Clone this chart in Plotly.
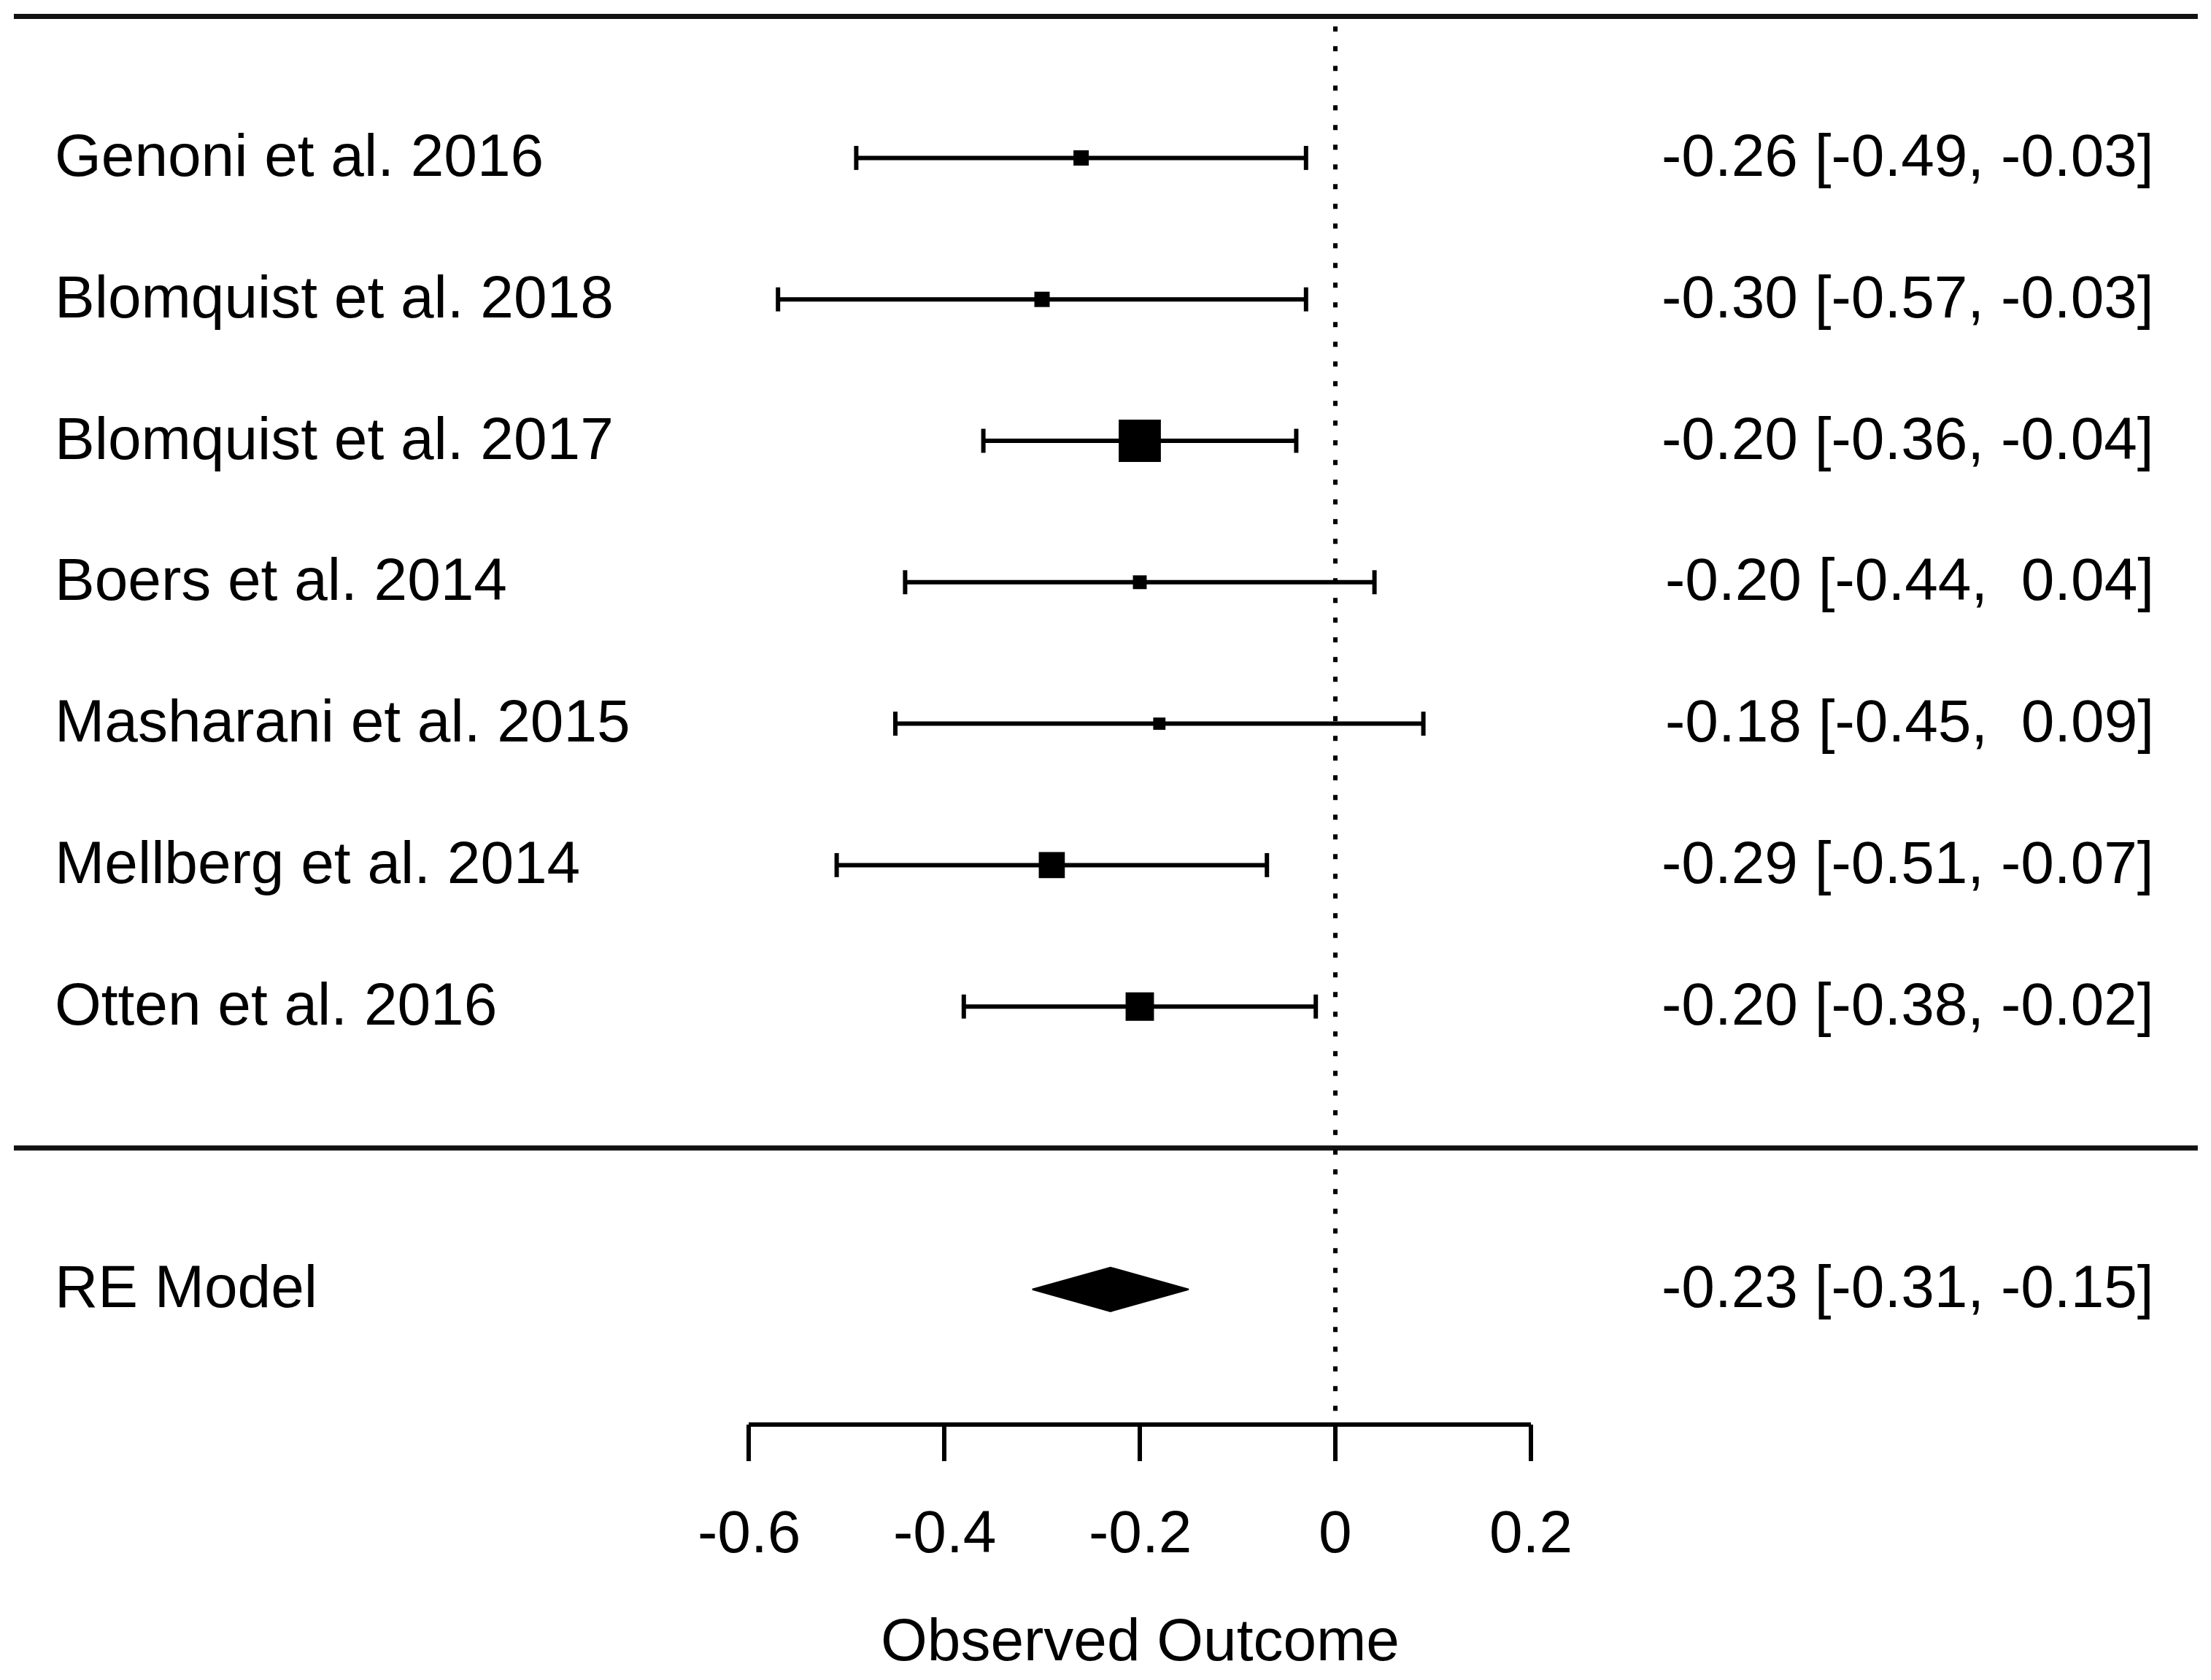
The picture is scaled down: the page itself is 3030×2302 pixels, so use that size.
import plotly.graph_objects as go

# forest plot data
studies = ['Genoni et al. 2016', 'Blomquist et al. 2018', 'Blomquist et al. 2017',
           'Boers et al. 2014', 'Masharani et al. 2015', 'Mellberg et al. 2014',
           'Otten et al. 2016']
estimates = [-0.26, -0.30, -0.20, -0.20, -0.18, -0.29, -0.20]
ci_lower = [-0.49, -0.57, -0.36, -0.44, -0.45, -0.51, -0.38]
ci_upper = [-0.03, -0.03, -0.04, 0.04, 0.09, -0.07, -0.02]
weights = [10.0, 10.0, 27.5, 9.0, 8.0, 17.0, 18.5]

re_label = 'RE Model'
re_estimate = -0.23
re_lower = -0.31
re_upper = -0.15

tick_values = [-0.6, -0.4, -0.2, 0, 0.2]
tick_labels = ['-0.6', '-0.4', '-0.2', '0', '0.2']
x_title = 'Observed Outcome'

# layout constants (pixels of the 3030x2302 page)
PAGE_W, PAGE_H = 3030, 2302
BODY = 8                       # default body margin of the html page
W, H = PAGE_W - 2 * BODY, PAGE_H - 2 * BODY
X0_PX, PX_X = 1830, 1340.0     # page pixel of x=0, pixels per unit
Y0_PX, PX_Y = 1573, 193.8      # page pixel of y=0, pixels per row

FONT = dict(family='Liberation Sans, Arial, sans-serif', size=82, color='black')
LW = 6

k = len(studies)
rows = list(range(k, 0, -1))
y_re = -1
y_axis = -1.956
x_left_line, x_right_line = -1.3515, 0.882
x_labels, x_annot = -1.311, 0.8388
cap = 0.085
txt_dy = 0.02


def fmt(v):
    s = f'{v:.2f}'
    return s if v < 0 else '\u00a0' + s


fig = go.Figure()

# top and separator lines
for yy in [k + 1, 0]:
    fig.add_trace(go.Scatter(x=[x_left_line, x_right_line], y=[yy, yy], mode='lines',
                             line=dict(color='#111', width=7), hoverinfo='skip'))

# reference line at zero
fig.add_trace(go.Scatter(x=[0, 0], y=[k + 1 - 0.07, y_axis + 0.08], mode='lines',
                         line=dict(color='black', width=6, dash='7px,20px'), hoverinfo='skip'))

# confidence intervals with caps
cx, cy = [], []
for lo, hi, r in zip(ci_lower, ci_upper, rows):
    cx += [lo, hi, None, lo, lo, None, hi, hi, None]
    cy += [r, r, None, r - cap, r + cap, None, r - cap, r + cap, None]
fig.add_trace(go.Scatter(x=cx, y=cy, mode='lines', line=dict(color='black', width=LW),
                         hoverinfo='skip'))

# point estimates, box size by weight
fig.add_trace(go.Scatter(x=estimates, y=rows, mode='markers',
                         marker=dict(symbol='square', color='black', opacity=1,
                                     size=[2.1 * w for w in weights], line=dict(width=0))))

# summary diamond
h = 0.155
fig.add_trace(go.Scatter(x=[re_lower, re_estimate, re_upper, re_estimate, re_lower],
                         y=[y_re, y_re + h, y_re, y_re - h, y_re],
                         mode='lines', fill='toself', fillcolor='black',
                         line=dict(color='black', width=2), hoverinfo='skip'))

# x axis drawn by hand (R style, only over the data range)
tl = 0.258
ax_x = [tick_values[0], tick_values[-1], None]
ax_y = [y_axis, y_axis, None]
for t in tick_values:
    ax_x += [t, t, None]
    ax_y += [y_axis, y_axis - tl, None]
fig.add_trace(go.Scatter(x=ax_x, y=ax_y, mode='lines', line=dict(color='black', width=LW),
                         hoverinfo='skip'))

annotations = []
for t, lab in zip(tick_values, tick_labels):
    annotations.append(dict(x=t, y=-2.714, text=lab, showarrow=False, xanchor='center',
                            yanchor='middle', font=FONT))
annotations.append(dict(x=(tick_values[0] + tick_values[-1]) / 2, y=-3.473, text=x_title,
                        showarrow=False, xanchor='center', yanchor='middle', font=FONT))

# study labels and estimate text
for name, r in zip(studies + [re_label], rows + [y_re]):
    annotations.append(dict(x=x_labels, y=r + txt_dy, text=name, showarrow=False,
                            xanchor='left', yanchor='middle', font=FONT))
for est, lo, hi, r in zip(estimates + [re_estimate], ci_lower + [re_lower],
                          ci_upper + [re_upper], rows + [y_re]):
    annotations.append(dict(x=x_annot, y=r + txt_dy, text=f'{est:.2f} [{lo:.2f}, {fmt(hi)}]',
                            showarrow=False, xanchor='right', yanchor='middle', font=FONT))

fig.update_layout(
    width=W, height=H,
    margin=dict(l=0, r=0, t=0, b=0),
    plot_bgcolor='white', paper_bgcolor='white',
    showlegend=False,
    annotations=annotations,
    xaxis=dict(range=[(BODY - X0_PX) / PX_X, (BODY + W - X0_PX) / PX_X],
               visible=False, fixedrange=True),
    yaxis=dict(range=[(Y0_PX - BODY - H) / PX_Y, (Y0_PX - BODY) / PX_Y],
               visible=False, fixedrange=True),
)

fig.write_html('out.html')
